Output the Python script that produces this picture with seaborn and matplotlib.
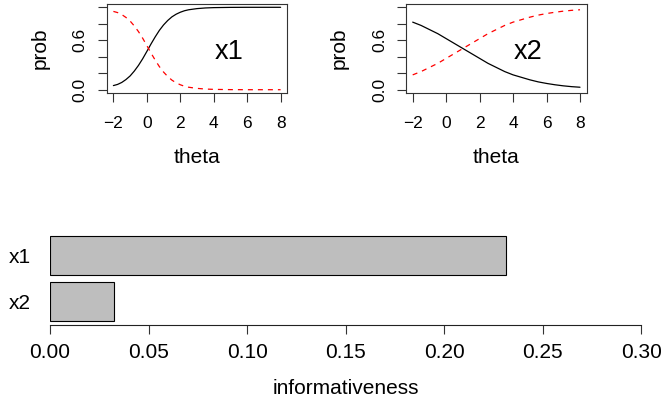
import matplotlib
matplotlib.use("Agg")
import matplotlib.pyplot as plt
import pandas as pd
import seaborn as sns

# item response curves
THETA_X1 = [-2, -1.75, -1.5, -1.25, -1, -0.75, -0.5, -0.25, 0, 0.25, 0.5,
            0.75, 1, 1.25, 1.5, 1.75, 2, 2.25, 2.5, 3, 3.5, 4, 5, 6, 7, 8]
X1_SOLID = [0.05, 0.064, 0.088, 0.123, 0.167, 0.226, 0.295, 0.375, 0.464,
            0.555, 0.641, 0.72, 0.786, 0.84, 0.884, 0.916, 0.94, 0.958, 0.97,
            0.984, 0.992, 0.996, 0.999, 1.0, 1.0, 1.0]
X1_DASHED = [0.95, 0.936, 0.912, 0.877, 0.833, 0.774, 0.705, 0.625, 0.536,
             0.445, 0.359, 0.28, 0.214, 0.16, 0.116, 0.084, 0.06, 0.042, 0.03,
             0.016, 0.008, 0.004, 0.001, 0.0, 0.0, 0.0]

THETA_X2 = [-2, -1.5, -1, -0.5, 0, 0.5, 1, 1.5, 2, 2.5, 3, 3.5, 4, 4.5, 5,
            5.5, 6, 6.5, 7, 7.5, 8]
X2_SOLID = [0.82, 0.78, 0.73, 0.68, 0.62, 0.56, 0.50, 0.44, 0.38, 0.32, 0.27,
            0.22, 0.18, 0.15, 0.12, 0.095, 0.076, 0.06, 0.047, 0.037, 0.03]
X2_DASHED = [0.18, 0.22, 0.27, 0.32, 0.38, 0.44, 0.50, 0.56, 0.62, 0.68, 0.73,
             0.78, 0.82, 0.85, 0.88, 0.905, 0.924, 0.94, 0.953, 0.963, 0.97]

ITEMS = ["x1", "x2"]
INFORMATIVENESS = [0.2313, 0.0326]

THETA_TICKS = [-2, 0, 2, 4, 6, 8]
PROB_TICKS = [0.0, 0.2, 0.4, 0.6, 0.8, 1.0]
PROB_LABELS = ["0.0", "", "", "0.6", "", ""]
INFO_TICKS = [0.0, 0.05, 0.10, 0.15, 0.20, 0.25, 0.30]

sns.set_theme(style="ticks")
plt.rcParams["font.family"] = ["Liberation Sans", "DejaVu Sans"]
plt.rcParams["axes.linewidth"] = 0.8
plt.rcParams["xtick.direction"] = "out"
plt.rcParams["ytick.direction"] = "out"
plt.rcParams["text.color"] = "black"
plt.rcParams["axes.labelcolor"] = "black"
plt.rcParams["xtick.labelcolor"] = "black"
plt.rcParams["ytick.labelcolor"] = "black"

W, H = 661, 403
fig = plt.figure(figsize=(W / 100, H / 100), dpi=100)


def px_axes(x0, y0, x1, y1):
    """Axes from pixel box (left, top, right, bottom)."""
    return fig.add_axes([x0 / W, (H - y1) / H, (x1 - x0) / W, (y1 - y0) / H])


def curve_panel(ax, theta, solid, dashed, name):
    sns.lineplot(x=theta, y=solid, ax=ax, color="black", lw=0.9)
    sns.lineplot(x=theta, y=dashed, ax=ax, color="red", lw=0.9,
                 linestyle=(0, (4, 4)))
    ax.set_xlim(-2.4, 8.4)
    ax.set_ylim(-0.04, 1.04)
    ax.set_xticks(THETA_TICKS)
    ax.set_yticks(PROB_TICKS)
    ax.set_yticklabels(PROB_LABELS, rotation=90, va="center")
    ax.tick_params(axis="both", length=6.7, width=0.8, color="#333333",
                   labelsize=12.5)
    ax.tick_params(axis="x", pad=10)
    ax.tick_params(axis="y", pad=7)
    for s in ax.spines.values():
        s.set_color("#333333")
    ax.text(4.9, 0.46, name, fontsize=19.5, ha="center", va="center",
            color="black")
    ax.set_xlabel("theta", fontsize=15)
    ax.set_ylabel("prob", fontsize=15)
    ax.xaxis.set_label_coords(0.5, -0.73)
    ax.xaxis.label.set_va("center")
    ax.yaxis.set_label_coords(-0.369, 0.5)
    ax.yaxis.label.set_va("center")


ax1 = px_axes(106.7, 4, 287.3, 93)
curve_panel(ax1, THETA_X1, X1_SOLID, X1_DASHED, ITEMS[0])
ax2 = px_axes(406, 4, 586.7, 93)
curve_panel(ax2, THETA_X2, X2_SOLID, X2_DASHED, ITEMS[1])

# informativeness bars
bx = px_axes(50, 232.6, 641.3, 324.5)
df = pd.DataFrame({"item": ITEMS, "info": INFORMATIVENESS})
sns.barplot(data=df, x="info", y="item", order=ITEMS, orient="h", ax=bx,
            color="#BEBEBE", saturation=1, edgecolor="black", linewidth=0.8,
            width=0.83)
bx.set_xlim(0, 0.30)
bx.set_ylim(1.49, -0.486)
bx.set_xticks(INFO_TICKS)
bx.set_xticklabels([f"{t:.2f}" for t in INFO_TICKS])
for side in ["left", "top", "right"]:
    bx.spines[side].set_visible(False)
bx.spines["bottom"].set_color("#222222")
bx.tick_params(axis="x", length=6.5, width=0.8, color="#333333",
               labelsize=15, pad=7)
bx.tick_params(axis="y", length=0, labelsize=15, pad=14)
bx.set_ylabel("")
bx.set_xlabel("informativeness", fontsize=15)
bx.xaxis.set_label_coords(0.5006, -0.70)
bx.xaxis.label.set_va("center")

fig.savefig("out.png", dpi=100)
